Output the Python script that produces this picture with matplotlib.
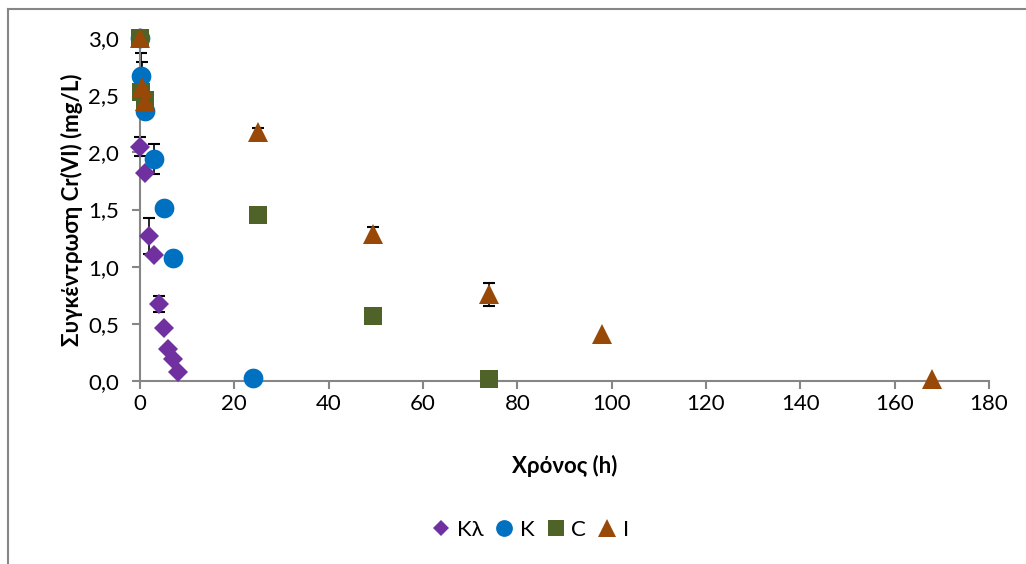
import matplotlib.pyplot as plt
from matplotlib.lines import Line2D
from matplotlib.ticker import FuncFormatter, MultipleLocator

plt.rcParams['font.family'] = ['Lato', 'Noto Sans', 'DejaVu Sans']

# Cr(VI) concentration over time for the four treatments
t_kl = [0, 1, 2, 3, 4, 5, 6, 7, 8]
c_kl = [2.05, 1.82, 1.27, 1.10, 0.67, 0.46, 0.28, 0.19, 0.08]
e_kl = [0.08, 0, 0.16, 0, 0.07, 0, 0, 0, 0]

t_k = [0, 0.25, 1, 3, 5, 7, 24]
c_k = [3.00, 2.67, 2.36, 1.94, 1.51, 1.08, 0.03]
e_k = [0, 0.20, 0, 0.13, 0, 0, 0]

t_c = [0, 0.25, 1, 25, 49.4, 74]
c_c = [3.00, 2.53, 2.46, 1.45, 0.57, 0.02]
e_c = [0, 0, 0.07, 0, 0, 0]

t_i = [0, 0.5, 1, 25, 49.4, 74, 98, 168]
c_i = [3.00, 2.57, 2.45, 2.18, 1.29, 0.76, 0.41, 0.02]
e_i = [0, 0.22, 0, 0.03, 0.06, 0.10, 0, 0]

series = [
    ('Kλ', t_kl, c_kl, e_kl, 'D', 10.0, '#7030A0'),
    ('K', t_k, c_k, e_k, 'o', 14.2, '#0070C0'),
    ('C', t_c, c_c, e_c, 's', 13.4, '#4F6228'),
    ('I', t_i, c_i, e_i, '^', 14.6, '#984807'),
]

fig = plt.figure(figsize=(10.26, 5.64), dpi=100)
ax = fig.add_axes([140 / 1026, 1 - 381 / 564, 849 / 1026, 343 / 564])

gray = '#868686'
fs = 16
handles = []
for name, t, c, e, mk, ms, col in series:
    # error bars only where a deviation was measured
    te = [x for x, d in zip(t, e) if d > 0]
    ce = [y for y, d in zip(c, e) if d > 0]
    ee = [d for d in e if d > 0]
    if ee:
        ax.errorbar(te, ce, yerr=ee, fmt='none', ecolor='black', elinewidth=1.2,
                    capsize=4.5, capthick=1.5, zorder=2, clip_on=False)
    ax.plot(t, c, linestyle='none', marker=mk, markersize=ms, color=col,
            markeredgewidth=0, zorder=3, clip_on=False)
    handles.append(Line2D([], [], linestyle='none', marker=mk, markersize=ms * 0.85,
                          color=col, markeredgewidth=0, label=name))

ax.set_xlim(0, 180)
ax.set_ylim(0, 3.0)
ax.xaxis.set_major_locator(MultipleLocator(20))
ax.yaxis.set_major_locator(MultipleLocator(0.5))
ax.yaxis.set_major_formatter(FuncFormatter(lambda v, p: f'{v:.1f}'.replace('.', ',')))

for side in ['top', 'right']:
    ax.spines[side].set_visible(False)
for side in ['left', 'bottom']:
    ax.spines[side].set_color(gray)
    ax.spines[side].set_linewidth(1.5)
ax.tick_params(direction='out', length=6, width=1.5, color=gray,
               labelsize=fs, labelcolor='black')
ax.tick_params(axis='y', pad=9)
ax.tick_params(axis='x', pad=3)

ax.set_xlabel('Χρόνος (h)', fontsize=fs, fontweight='bold', labelpad=30)
ax.set_ylabel('Συγκέντρωση Cr(VI) (mg/L)', fontsize=fs, fontweight='bold')
ax.yaxis.set_label_coords(-0.067, 0.5)

fig.legend(handles=handles, loc='center', bbox_to_anchor=(530 / 1026, 1 - 530 / 564),
           ncol=4, frameon=False, fontsize=fs, handlelength=0.9,
           handletextpad=0.25, columnspacing=0.5, borderpad=0)

# chart area outline (left and top edges)
fig.add_artist(Line2D([7.5 / 1026, 7.5 / 1026], [0, 1 - 9 / 564], transform=fig.transFigure,
                      color=gray, linewidth=1.5))
fig.add_artist(Line2D([7.5 / 1026, 1], [1 - 9 / 564, 1 - 9 / 564], transform=fig.transFigure,
                      color=gray, linewidth=1.5))

fig.savefig('out.png', dpi=100)
